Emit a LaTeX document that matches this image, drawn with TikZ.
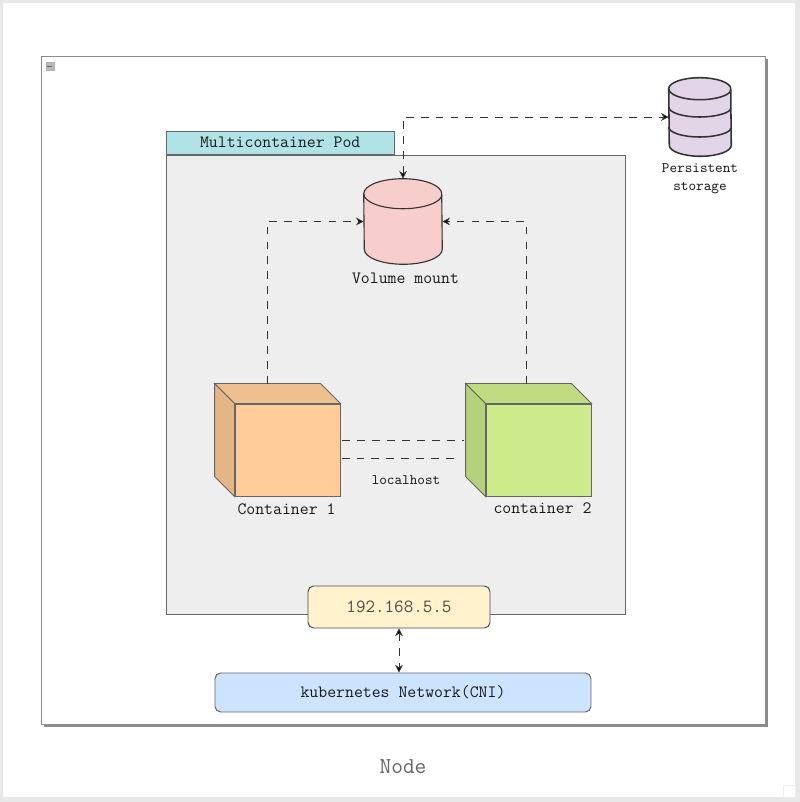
\documentclass[tikz,border=0pt]{standalone}
\usepackage{fontspec}
\usetikzlibrary{arrows.meta, positioning, calc, shadows}

\definecolor{c_line}{HTML}{666666}
\definecolor{c_dash}{HTML}{333333}

\begin{document}
\begin{tikzpicture}[shorten >= 1pt, node distance=3cm, on grid, >={Stealth[length=5.5pt,width=5.5pt]}]
    \tikzstyle{box}=[draw=c_line, rectangle, inner sep=0pt, line width=0.7pt]
    \tikzstyle{label_big}=[font=\ttfamily\fontsize{12.3}{14}\selectfont, text=black!90]
    \tikzstyle{label_small}=[font=\ttfamily\fontsize{10.3}{12.5}\selectfont, text=black!90, align=center]
    \tikzstyle{cube}=[box, minimum width=2.625cm, minimum height=2.3cm]
    \tikzstyle{bar}=[box, rounded corners=4pt]
    \tikzstyle{drum}=[rectangle, inner sep=0pt]
    \tikzstyle{link}=[draw=c_dash, line width=0.6pt, dash pattern=on 5.6pt off 5pt, shorten >=0pt]

    % page and outer frame
    \fill[black!9] (0,0) rectangle (20,20.05);
    \fill[white] (0.08,0.12) rectangle (19.88,19.97);
    \useasboundingbox (0,0) rectangle (20,20.05);
    \draw[black!7, line width=0.5pt] (19.58,0.12) rectangle (19.88,0.42);

    \node[box, draw=black!45, fill=white, drop shadow={shadow xshift=.065cm, shadow yshift=-.065cm, fill=black!60, opacity=.75},
        minimum width=18.1cm, minimum height=16.7cm] (node_box) at (10.075,10.3) {};
    \node[box, draw=black!30, fill=black!28, minimum width=.2cm, minimum height=.2cm] (collapse) at (1.25,18.4) {};
    \draw[black!60, line width=0.5pt] ([xshift=1pt]collapse.west) -- ([xshift=-1pt]collapse.east);

    \node[box, fill={rgb,255:red,238;green,238;blue,238}, minimum width=11.4625cm, minimum height=11.475cm,
        above left=.1375cm and .181cm of node_box] (pod) {};
    \node[box, fill={rgb,255:red,176;green,227;blue,230}, minimum width=5.69cm, minimum height=.575cm, label_big,
        above left=6.05cm and 2.888cm of pod] (pod_title) {Multicontainer Pod};

    \node[drum, minimum width=1.95cm, minimum height=2.125cm, above right=4.075cm and .181cm of pod] (vol) {};
    \node[label_big, below right=1.4125cm and .0625cm of vol] (vol_label) {Volume mount};

    \node[drum, minimum width=1.55cm, minimum height=1.95cm, above right=2.6125cm and 7.425cm of vol] (store) {};
    \node[label_small, below=1.55cm of store] (store_label) {Persistent\\storage};

    % the two drums
    \foreach \n/\rx/\ry/\w/\f in {vol/.975/.375/0.8pt/{rgb,255:red,248;green,206;blue,204},
                                  store/.775/.275/1.1pt/{rgb,255:red,225;green,213;blue,231}} {
        \filldraw[draw=black!80, line width=\w, fill=\f] ($(\n.north west)+(0,-\ry)$) arc (180:0:\rx cm and \ry cm)
            -- ($(\n.south east)+(0,\ry)$) arc (0:-180:\rx cm and \ry cm) -- cycle;
        \draw[black!80, line width=\w] ($(\n.north west)+(0,-\ry)$) arc (180:360:\rx cm and \ry cm);
    }
    \draw[black!80, line width=1.1pt] ($(store.west)+(0,.25)$) arc (180:360:.775 and .25);
    \draw[black!80, line width=1.1pt] ($(store.west)+(0,-.25)$) arc (180:360:.775 and .25);

    % the two containers
    \node[cube, fill={rgb,255:red,255;green,204;blue,153}, below left=1.6375cm and 2.7065cm of pod] (c_1) {};
    \node[cube, fill={rgb,255:red,205;green,235;blue,139}, right=6.275cm of c_1] (c_2) {};
    \foreach \n/\t/\s in {c_1/{rgb,255:red,239;green,192;blue,143}/{rgb,255:red,227;green,181;blue,135},
                          c_2/{rgb,255:red,192;green,219;blue,130}/{rgb,255:red,181;green,209;blue,123}} {
        \filldraw[c_line, line width=0.7pt, fill=\t] (\n.north west) -- ++(-.5,.5) -- ($(\n.north east)+(-.5,.5)$) -- (\n.north east) -- cycle;
        \filldraw[c_line, line width=0.7pt, fill=\s] (\n.north west) -- ++(-.5,.5) -- ($(\n.south west)+(-.5,.5)$) -- (\n.south west) -- cycle;
    }
    \node[label_big, below left=1.475cm and .025cm of c_1] (c_1_label) {Container 1};
    \node[label_big, below right=1.45cm and .1cm of c_2] (c_2_label) {container 2};
    \node[label_small, below right=.75cm and 2.9625cm of c_1] (local_label) {localhost};

    \coordinate (c_1_top) at ($(c_1.north)+(-.5125,.5)$);
    \coordinate (c_2_top) at ($(c_2.north)+(-.3125,.5)$);
    \coordinate (c_2_side) at ($(c_2.west)+(-.5,0)$);

    \node[bar, draw=black!70, fill={rgb,255:red,255;green,242;blue,204}, minimum width=4.55cm, minimum height=1.05cm,
        font=\ttfamily\fontsize{13.2}{15}\selectfont, text=black!70,
        below right=5.5625cm and .081cm of pod] (ip) {192.168.5.5};
    \node[bar, fill={rgb,255:red,204;green,228;blue,255}, minimum width=9.4cm, minimum height=.975cm, label_big,
        below right=2.1375cm and .1cm of ip] (net) {kubernetes Network(CNI)};
    \node[font=\ttfamily\fontsize{16.2}{19}\selectfont, text=black!60, below=1.8625cm of net] (node_title) {Node};

    \path[link]
    (c_1_top) edge[->, to path={|- (\tikztotarget)}] (vol.west)
    (c_2_top) edge[->, to path={|- (\tikztotarget)}] (vol.east)
    (vol.north) edge[<->, to path={|- (\tikztotarget)}] (store.west)
    ([yshift=.25cm,xshift=.05cm]c_1.east) edge ([yshift=.25cm,xshift=-.05cm]c_2_side)
    ([yshift=-.2cm,xshift=.03cm]c_1.east) edge ([yshift=-.2cm,xshift=-.12cm]c_2_side)
    (ip.south) edge[<->] (ip.south |- net.north);
\end{tikzpicture}
\end{document}
